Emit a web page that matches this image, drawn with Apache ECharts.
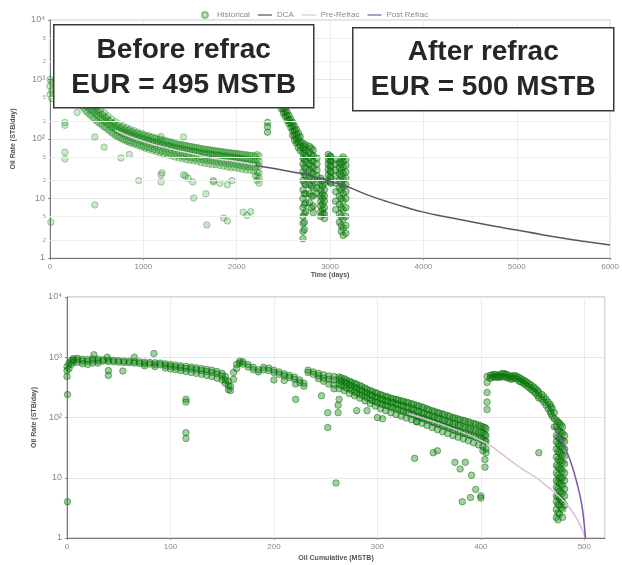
<!DOCTYPE html>
<html><head><meta charset="utf-8">
<script src="https://cdn.jsdelivr.net/npm/echarts@6/dist/echarts.min.js"></script>
<style>html,body{margin:0;padding:0;background:#fff}#c{width:622px;height:565px}</style>
</head><body><div id="c"></div><script>
// ---------- DATA ----------
const legendNames = ['Historical', 'DCA', 'Pre-Refrac', 'Post Refrac'];
const rateTickLabels = {1: '1', 10: '10', 100: '10²', 1000: '10³', 10000: '10⁴'};
const topMinorLevels = [2, 5, 20, 50, 200, 500, 2000, 5000];

// Top chart: rows [time, rate, rate, ...]
const topPreRows = [
  [0, 1000, 780, 560], [20, 900, 650, 480], [60, 950, 800, 650], [100, 900, 760, 620],
  [140, 850, 700, 560], [180, 820, 660, 520], [220, 760, 620, 480], [260, 700, 560, 440],
  [300, 740, 600, 520, 420], [340, 640, 520, 450, 360], [380, 540, 440, 380, 300],
  [420, 460, 380, 330, 260], [460, 400, 340, 290, 230], [500, 350, 300, 255, 200],
  [540, 310, 265, 225, 180], [580, 275, 235, 200, 160], [620, 245, 210, 180, 145],
  [660, 215, 185, 160, 128], [700, 195, 165, 145, 115], [740, 178, 152, 132, 106],
  [780, 165, 140, 122, 98], [820, 155, 132, 115, 92], [860, 146, 125, 108, 86],
  [900, 138, 118, 102, 82], [940, 130, 112, 97, 78], [980, 124, 106, 92, 74],
  [1020, 118, 101, 88, 70], [1060, 113, 96, 84, 67], [1100, 108, 92, 80, 64],
  [1140, 104, 88, 77, 61], [1180, 100, 85, 74, 59], [1220, 96, 82, 71, 56],
  [1260, 92, 78, 68, 54], [1300, 89, 76, 66, 52], [1340, 85, 72, 63, 50],
  [1380, 82, 70, 61, 48], [1420, 80, 68, 59, 47], [1460, 77, 65, 57, 45],
  [1500, 75, 64, 56, 44], [1540, 73, 62, 54, 43], [1580, 71, 61, 53, 42],
  [1620, 69, 59, 51, 40], [1660, 67, 57, 50, 39], [1700, 66, 56, 49, 38],
  [1740, 64, 55, 48, 37], [1780, 63, 54, 47, 37], [1820, 62, 53, 46, 36],
  [1860, 60, 52, 45, 35], [1900, 59, 51, 44, 34], [1940, 58, 50, 43, 33],
  [1980, 57, 49, 42, 33], [2020, 56, 48, 41, 32], [2060, 55, 47, 40, 31],
  [2100, 54, 46, 39, 30], [2140, 53, 45, 38, 30], [2180, 52, 44, 38, 29],
  [2220, 55, 45, 37, 28, 24, 20], [2240, 52, 42, 35, 27, 22, 18]
];
const topPreRowsB = [
  [320, 590, 480, 390], [360, 500, 410, 330], [400, 420, 350, 285], [440, 370, 310, 250],
  [480, 320, 275, 215], [520, 285, 245, 190], [560, 255, 215, 170], [600, 228, 195, 155],
  [640, 200, 172, 138], [680, 182, 155, 122], [720, 168, 143, 112], [760, 157, 133, 104],
  [800, 148, 126, 97], [840, 140, 120, 92], [880, 133, 114, 88], [920, 126, 108, 84],
  [960, 120, 103, 80], [1000, 115, 98, 76], [1040, 110, 94, 73], [1080, 106, 90, 70],
  [1120, 102, 87, 67], [1160, 98, 84, 65], [1200, 94, 80, 62], [1240, 91, 77, 60],
  [1280, 88, 75, 58], [1320, 85, 72, 56], [1360, 82, 70, 54], [1400, 80, 68, 52],
  [1440, 78, 66, 51], [1480, 76, 64, 50], [1520, 74, 62, 48], [1560, 72, 61, 47],
  [1600, 70, 59, 46], [1640, 68, 58, 45], [1680, 67, 56, 44], [1720, 65, 55, 43],
  [1760, 64, 54, 42], [1800, 62, 53, 41], [1840, 61, 52, 40], [1880, 60, 51, 39],
  [1920, 59, 50, 38], [1960, 58, 49, 38], [2000, 57, 48, 37], [2040, 56, 47, 36],
  [2080, 55, 46, 35], [2120, 54, 45, 34], [2160, 53, 44, 34], [2200, 52, 43, 33]
];
const topPreOutliers = [
  [10, 4], [160, 60], [160, 46], [160, 190], [160, 170], [290, 280], [480, 7.8], [480, 108],
  [580, 73], [760, 48], [850, 55], [950, 20], [1190, 25], [1190, 19], [1190, 110],
  [1430, 108], [1430, 25], [1480, 22], [1530, 19], [1540, 10.2], [1670, 12], [1680, 3.6],
  [1750, 19], [1820, 18], [1860, 4.7], [1900, 17], [1900, 4.2], [1950, 20], [2070, 5.9],
  [2110, 5.2], [2150, 6], [2200, 24], [1200, 27], [1450, 24], [1750, 20]
];
const topPostRows = [
  [2300, 1800, 1400], [2330, 1500, 1200, 190, 160, 130], [2360, 1300, 1000, 800],
  [2400, 900, 750, 620], [2440, 620, 520, 440], [2480, 450, 380, 320], [2500, 380, 320, 270],
  [2520, 330, 280, 240], [2540, 285, 245, 205], [2560, 250, 210, 180], [2580, 215, 185, 155],
  [2600, 190, 160, 135, 115], [2620, 165, 140, 115, 95],
  [2640, 145, 120, 100, 85], [2660, 125, 105, 88, 72], [2680, 110, 92, 78, 64],
  [2710, 85, 70, 58, 48, 38, 28, 20, 14, 10, 7, 5, 3.8, 2.8, 2.1],
  [2725, 75, 60, 45, 34, 25, 18, 12, 8, 5.5, 4, 3],
  [2740, 80, 65, 52, 42, 32, 24, 17, 12, 8.5, 6],
  [2780, 75, 60, 48, 38, 30, 23, 17, 12, 8.5],
  [2800, 70, 55, 44, 35, 27, 21, 16, 11, 7],
  [2820, 65, 52, 42, 33, 26, 20, 15, 11, 7.5, 5.8],
  [2860, 48, 38, 30, 24, 19, 15, 12],
  [2900, 22, 18, 14, 11, 9, 7.5, 6, 5],
  [2920, 20, 16, 12, 10, 8, 6.5, 5.5],
  [2940, 18, 14, 11, 9, 7, 5.5, 4.6],
  [2980, 55, 46, 38, 31, 25, 20],
  [3000, 52, 44, 36, 29, 23, 19],
  [3010, 50, 42, 34, 28, 22, 18],
  [3060, 45, 38, 30, 24, 18, 13, 9, 6.5],
  [3100, 40, 33, 26, 20, 15, 11, 8, 5.5, 4],
  [3120, 46, 38, 30, 24, 18, 14, 10, 7, 5, 3.5, 2.8],
  [3140, 50, 42, 34, 27, 21, 16, 12, 9, 6.5, 4.5, 3.2, 2.4],
  [3170, 45, 36, 28, 22, 17, 13, 10, 7, 5, 3.5, 2.6]
];
const topPreRefracLine = [[700, 140], [850, 110], [1000, 91], [1200, 74], [1400, 62], [1600, 53], [1800, 46], [2000, 42], [2200, 37]];
const topDcaLine = [[2200, 36], [2400, 32], [2600, 28], [2800, 24], [3000, 19.5], [3200, 15.5], [3400, 11.5],
  [3600, 9], [3800, 7.2], [4000, 5.9], [4250, 4.9], [4500, 4.1], [4750, 3.45], [5000, 2.95],
  [5250, 2.5], [5500, 2.15], [5750, 1.88], [6000, 1.65]];

// Bottom chart: rows [cumulative, rate, rate, ...]
const bottomPreRows = [
  [0, 700, 600, 480], [2, 800, 650], [4, 880, 760], [6, 950, 900, 830], [10, 960, 900, 820],
  [15, 930, 860, 780], [20, 920, 850, 760], [25, 940, 880, 800], [30, 930, 870, 800],
  [35, 910, 860], [40, 900, 850], [45, 890, 840], [50, 880, 830], [55, 870, 820],
  [60, 860, 810], [65, 850, 800], [70, 840, 790], [75, 830, 780, 720], [80, 820, 770],
  [85, 810, 760, 700], [90, 800, 750], [95, 780, 730, 660], [100, 760, 710, 640],
  [105, 740, 690, 620], [110, 720, 670, 600], [115, 700, 650, 580], [120, 690, 640, 560],
  [125, 670, 620, 540], [130, 650, 600, 520], [135, 630, 580, 500], [140, 610, 560, 480],
  [145, 580, 530, 450], [150, 540, 490, 420], [153, 480, 420, 370], [156, 400, 340, 290],
  [158, 330, 280], [161, 560, 430], [164, 760, 650], [167, 860, 800], [170, 840, 770],
  [175, 760, 690], [180, 680, 620], [185, 620, 570], [190, 680, 620], [195, 660, 600],
  [200, 610, 560], [205, 570, 520], [210, 530, 490], [215, 500, 460], [220, 470, 430],
  [225, 420, 380], [229, 370, 330], [233, 610, 560], [238, 570, 520], [243, 540, 490, 440],
  [248, 510, 450, 400], [253, 490, 430, 360], [258, 480, 420, 350, 300],
  [263, 470, 420, 360, 300], [268, 440, 390, 330, 280], [273, 400, 350, 300, 250],
  [278, 370, 320, 270, 230], [283, 340, 290, 245, 210], [288, 310, 265, 225, 190],
  [293, 280, 240, 200, 170], [298, 260, 220, 185, 155], [303, 240, 205, 170, 140],
  [308, 225, 190, 160, 130], [313, 210, 180, 150, 120], [318, 200, 170, 140, 112],
  [323, 190, 160, 130, 105], [328, 180, 150, 122, 98], [333, 170, 140, 115, 92],
  [338, 160, 130, 105, 85], [343, 150, 120, 98, 80], [348, 140, 112, 92, 74],
  [353, 130, 105, 85, 68], [358, 122, 98, 78, 63], [363, 115, 92, 73, 58],
  [368, 108, 86, 68, 54], [373, 100, 80, 63, 50], [378, 95, 75, 59, 47],
  [383, 90, 70, 55, 44], [388, 85, 66, 52, 41], [393, 80, 62, 49, 38],
  [398, 75, 58, 46, 35], [402, 70, 55, 43, 33, 28], [405, 65, 50, 40, 30, 26]
];
const bottomPreRowsB = [
  [265, 455, 400, 340], [270, 420, 370, 310], [275, 385, 335, 285], [280, 355, 305, 255],
  [285, 325, 278, 235], [290, 295, 252, 212], [295, 270, 230, 192], [300, 250, 212, 178],
  [305, 232, 198, 165], [310, 218, 185, 155], [315, 205, 175, 145], [320, 195, 165, 135],
  [325, 185, 155, 126], [330, 175, 145, 118], [335, 165, 135, 110], [340, 155, 125, 102],
  [345, 145, 116, 95], [350, 135, 108, 88], [355, 126, 101, 82], [360, 118, 95, 76],
  [365, 111, 89, 71], [370, 104, 83, 66], [375, 98, 78, 61], [380, 92, 73, 57],
  [385, 87, 68, 54], [390, 82, 64, 50], [395, 78, 60, 47], [400, 72, 56, 44], [404, 68, 52, 41]
];
const bottomPreOutliers = [
  [0.5, 240], [0.5, 4], [26, 1100], [39, 1000], [40, 600], [40, 500], [54, 590], [65, 1000],
  [84, 1150], [115, 200], [115, 180], [115, 56], [115, 45], [200, 420], [210, 410], [221, 360],
  [221, 200], [246, 230], [252, 68], [260, 8.2], [262, 160], [262, 120], [252, 120], [263, 200],
  [280, 130], [290, 130], [300, 100], [305, 95], [338, 85], [336, 21], [354, 26], [358, 28],
  [375, 18], [380, 14], [385, 18], [391, 11], [382, 4], [390, 4.7], [395, 6.4], [400, 5],
  [400, 4.6], [404, 20], [404, 15]
];
const bottomPostRows = [
  [406, 480, 380, 260, 180, 136], [409, 500, 450], [411, 510, 460], [413, 520, 470],
  [415, 510, 470], [417, 500, 460], [419, 520, 470], [421, 540, 480], [423, 530, 470],
  [425, 520, 460], [427, 500, 450], [429, 480, 430], [431, 490, 440], [433, 500, 450],
  [435, 480, 430], [437, 460, 400], [439, 440, 390], [441, 420, 370], [443, 400, 350],
  [445, 380, 330], [447, 360, 310], [449, 340, 290], [451, 320, 270], [453, 300, 250],
  [455, 280, 230], [456, 260, 210, 26], [459, 240, 200], [461, 220, 180], [463, 200, 160],
  [465, 180, 140], [467, 165, 125], [468, 150, 115], [469, 140, 105], [471, 120, 95, 70],
  [473, 90, 70, 50, 40, 30, 22, 16, 12, 9, 7, 5, 4, 3, 2.2],
  [474.5, 85, 62, 47, 36, 27, 20, 15, 11, 8.5, 6.5, 4.8, 3.6, 2.6, 2],
  [476, 80, 60, 45, 34, 26, 19, 14, 10, 8, 6, 4.5, 3.5, 2.5],
  [477.5, 75, 57, 43, 33, 25, 19, 14, 10, 7.8, 5.8, 4.2, 3.2],
  [479, 70, 55, 42, 32, 24, 18, 13, 10, 7.5, 5.5, 4, 3, 2.2],
  [481, 50, 40, 30, 23, 17, 12, 9, 6.5, 5, 3.5]
];
const bottomPreRefracLine = [[330, 115], [350, 90], [370, 68], [390, 50], [408, 35], [420, 25], [440, 14],
  [452, 10.4], [465, 7], [479, 4.3], [490, 2.5], [497, 1.5], [501, 1]];
const bottomPostRefracLine = [[470, 70], [476, 48], [482, 30], [488, 16], [493, 8], [497, 4], [499.5, 2], [501, 1]];

// ---------- helpers (reshape rows into [x, y] points) ----------
function expand(...rowSets) {
  const out = [];
  rowSets.forEach(rows => rows.forEach(r => { for (let i = 1; i < r.length; i++) out.push([r[0], r[i]]); }));
  return out;
}

const FONT = 'Liberation Sans, Arial, sans-serif';
const scatterStyle = {color: 'rgba(20,135,20,0.5)', borderColor: 'rgba(0,100,0,0.75)', borderWidth: 0.8};
const lightScatter = {color: 'rgba(50,155,50,0.3)', borderColor: 'rgba(0,115,0,0.5)', borderWidth: 0.8};
const LINE_ICON = 'path://M0,0H24V2H0Z';

function xAxisCfg(grid, max, interval, name, gap) {
  return {
    type: 'value', gridIndex: grid, min: 0, max: max, interval: interval,
    name: name, nameLocation: 'middle', nameGap: gap,
    nameTextStyle: {fontSize: 7, fontWeight: 'bold', color: '#555', fontFamily: FONT},
    axisLine: {lineStyle: {color: '#777'}},
    axisTick: {show: true, length: 2, lineStyle: {color: '#888'}},
    axisLabel: {fontSize: 8, color: '#888', margin: 5, fontFamily: FONT,
      showMaxLabel: max % interval === 0, formatter: v => String(v)},
    splitLine: {show: true, lineStyle: {color: '#ececec'}}
  };
}
function yAxisCfg(grid, gap) {
  return {
    type: 'log', logBase: 10, gridIndex: grid, min: 1, max: 10000,
    name: 'Oil Rate (STB/day)', nameLocation: 'middle', nameGap: gap, nameRotate: 90,
    nameTextStyle: {fontSize: 7, fontWeight: 'bold', color: '#555', fontFamily: FONT},
    axisLine: {show: true, lineStyle: {color: '#777'}},
    axisTick: {show: true, length: 2, lineStyle: {color: '#888'}},
    axisLabel: {fontSize: 9, color: '#888', margin: 5, fontFamily: FONT,
      formatter: v => rateTickLabels[Math.round(v)] || ''},
    splitLine: {show: true, lineStyle: {color: '#e6e6e6'}}
  };
}
function box(left, top, w, h, line1, line2, y1, y2) {
  const txt = (t, y) => ({type: 'text', z: 101, x: w / 2, y: y,
    style: {text: t, font: 'bold 28px ' + FONT, fill: '#262626', textAlign: 'center', textVerticalAlign: 'middle'}});
  return {type: 'group', left: left, top: top, z: 100, children: [
    {type: 'rect', z: 100, shape: {x: 0, y: 0, width: w, height: h}, style: {fill: '#fff', stroke: '#3a3a3a', lineWidth: 1.5}},
    txt(line1, y1), txt(line2, y2)
  ]};
}

const option = {
  animation: false,
  backgroundColor: '#fff',
  legend: {
    data: [
      {name: legendNames[0]},
      {name: legendNames[1], icon: LINE_ICON},
      {name: legendNames[2], icon: LINE_ICON},
      {name: legendNames[3], icon: LINE_ICON}
    ],
    left: 196, top: 6, itemGap: 8, itemWidth: 14, itemHeight: 6,
    textStyle: {fontSize: 8, color: '#8a8a8a', fontFamily: FONT}
  },
  grid: [
    {left: 50, right: 6, top: 20, bottom: 307, show: true, borderColor: '#c8c8c8', borderWidth: 1},
    {left: 67, right: 17, top: 297, bottom: 27, show: true, borderColor: '#b0b0b0', borderWidth: 1}
  ],
  xAxis: [xAxisCfg(0, 6000, 1000, 'Time (days)', 14), xAxisCfg(1, 520, 100, 'Oil Cumulative (MSTB)', 17)],
  yAxis: [yAxisCfg(0, 33), yAxisCfg(1, 29)],
  series: [
    {
      name: 'Historical', type: 'scatter', xAxisIndex: 0, yAxisIndex: 0, symbolSize: 6.5,
      data: expand(topPreRows, topPreRowsB), itemStyle: lightScatter, z: 2,
      markLine: {
        silent: true, symbol: ['none', 'none'], animation: false,
        lineStyle: {color: '#efefef', type: 'solid', width: 1},
        label: {position: 'start', distance: 4, fontSize: 6, color: '#999', fontFamily: FONT,
          formatter: p => String(p.value).charAt(0)},
        data: topMinorLevels.map(v => ({yAxis: v}))
      }
    },
    {name: 'Historical', type: 'scatter', xAxisIndex: 0, yAxisIndex: 0, symbolSize: 6.5,
      data: topPreOutliers, itemStyle: lightScatter, z: 2},
    {name: 'Historical', type: 'scatter', xAxisIndex: 0, yAxisIndex: 0, symbolSize: 6.5,
      data: expand(topPostRows), itemStyle: scatterStyle, z: 2},
    {name: 'Pre-Refrac', type: 'line', symbol: 'none', xAxisIndex: 0, yAxisIndex: 0, data: topPreRefracLine,
      smooth: true, lineStyle: {color: '#e8d2e8', width: 1.5}, itemStyle: {color: '#dcc0dc'}, z: 5},
    {name: 'DCA', type: 'line', symbol: 'none', xAxisIndex: 0, yAxisIndex: 0, data: topDcaLine,
      smooth: true, lineStyle: {color: '#5b5468', width: 1.5}, itemStyle: {color: '#4a4a52'}, z: 5},

    {name: 'Historical', type: 'scatter', xAxisIndex: 1, yAxisIndex: 1, symbolSize: 6.5,
      data: expand(bottomPreRows, bottomPreRowsB), itemStyle: scatterStyle, z: 2},
    {name: 'Historical', type: 'scatter', xAxisIndex: 1, yAxisIndex: 1, symbolSize: 6.5,
      data: bottomPreOutliers, itemStyle: scatterStyle, z: 2},
    {name: 'Historical', type: 'scatter', xAxisIndex: 1, yAxisIndex: 1, symbolSize: 6.5,
      data: expand(bottomPostRows), itemStyle: scatterStyle, z: 2},
    {name: 'Pre-Refrac', type: 'line', symbol: 'none', xAxisIndex: 1, yAxisIndex: 1, data: bottomPreRefracLine,
      smooth: true, lineStyle: {color: '#dcc0dc', width: 1.5}, itemStyle: {color: '#dcc0dc'}, z: 5},
    {name: 'Post Refrac', type: 'line', symbol: 'none', xAxisIndex: 1, yAxisIndex: 1, data: bottomPostRefracLine,
      smooth: true, lineStyle: {color: '#7b55a8', width: 1.5}, itemStyle: {color: '#7b55a8'}, z: 5}
  ],
  graphic: [
    box(53, 24, 260, 83, 'Before refrac', 'EUR = 495 MSTB', 26, 61),
    box(352, 27, 261, 83, 'After refrac', 'EUR = 500 MSTB', 25, 60)
  ]
};

const chart = echarts.init(document.getElementById('c'), null, {renderer: 'canvas'});
chart.setOption(option);
</script></body></html>
